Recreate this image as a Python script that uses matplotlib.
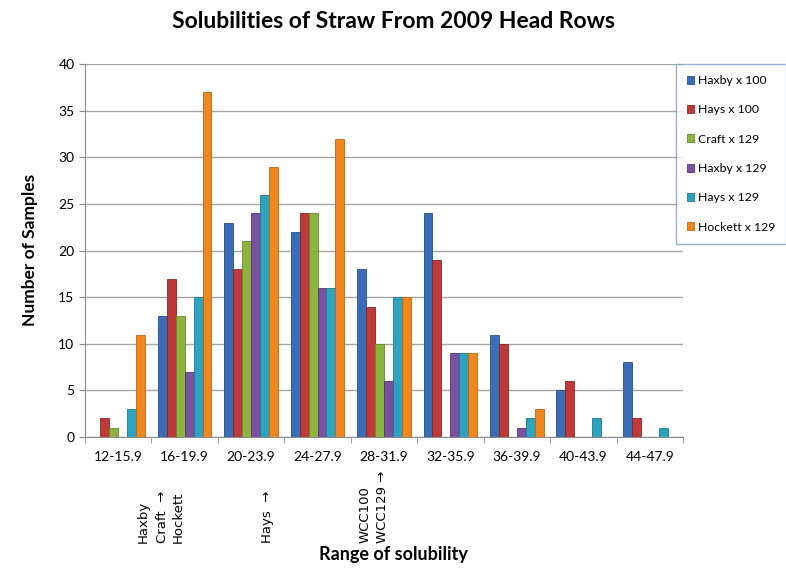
import numpy as np
import matplotlib
matplotlib.use("Agg")
import matplotlib.pyplot as plt

plt.rcParams['font.family'] = ['Lato', 'DejaVu Sans']

#data
ranges = ['12-15.9', '16-19.9', '20-23.9', '24-27.9', '28-31.9',
          '32-35.9', '36-39.9', '40-43.9', '44-47.9']
haxby_100 = [0, 13, 23, 22, 18, 24, 11, 5, 8]
hays_100 = [2, 17, 18, 24, 14, 19, 10, 6, 2]
craft_129 = [1, 13, 21, 24, 10, 0, 0, 0, 0]
haxby_129 = [0, 7, 24, 16, 6, 9, 1, 0, 0]
hays_129 = [3, 15, 26, 16, 15, 9, 2, 2, 1]
hockett_129 = [11, 37, 29, 32, 15, 9, 3, 0, 0]

series = [haxby_100, hays_100, craft_129, haxby_129, hays_129, hockett_129]
labels = ['Haxby x 100', 'Hays x 100', 'Craft x 129',
          'Haxby x 129', 'Hays x 129', 'Hockett x 129']
colors = ['#3A6DB5', '#BE3A38', '#8DB43F', '#7A519E', '#2EA3C0', '#F0861E']
edges = ['#24508F', '#8E2423', '#668A27', '#553573', '#1C7A90', '#C0650E']

fig = plt.figure(figsize=(7.86, 5.69), dpi=100)
ax = fig.add_axes([0.108, 0.232, 0.761, 0.655])

x = np.arange(len(ranges))
w = 0.135
for k, vals in enumerate(series):
    ax.bar(x + (k - 2.5)*w, vals, width=w, color=colors[k],
           edgecolor=edges[k], linewidth=0.6, label=labels[k], zorder=3)

ax.set_xlim(-0.5, len(ranges) - 0.5)
ax.set_ylim(0, 40)
ax.set_yticks(range(0, 41, 5))
ax.yaxis.grid(True, color='#A6A6A6', lw=1, zorder=0)

# category ticks sit between the groups
ax.set_xticks(x)
ax.set_xticklabels(ranges, fontsize=10)
ax.set_xticks(np.arange(-0.5, len(ranges)), minor=True)
ax.tick_params(axis='x', which='major', length=0, pad=10)
ax.tick_params(axis='x', which='minor', length=4, color='#8C8C8C')
ax.tick_params(axis='y', length=4, color='#8C8C8C', labelsize=10)

for s in ['top', 'right']:
    ax.spines[s].set_visible(False)
for s in ['left', 'bottom']:
    ax.spines[s].set_color('#8C8C8C')

fig.text(0.5, 0.962, 'Solubilities of Straw From 2009 Head Rows',
         ha='center', va='center', fontsize=16.5, fontweight='bold')
fig.text(0.038, 0.56, 'Number of Samples', rotation=90, ha='center',
         va='center', fontsize=12.5, fontweight='bold')
fig.text(0.5, 0.025, 'Range of solubility', ha='center', va='center',
         fontsize=13, fontweight='bold')

#vertical variety notes under the axis
notes = [('Haxby', 143), ('Craft  \u2192', 162), ('Hockett', 178),
         ('Hays  \u2192', 268), ('WCC100', 365), ('WCC129 \u2192', 382)]
for txt, px in notes:
    fig.text(px/786, 1 - 543/569, txt, rotation=90, ha='center', va='bottom',
             fontsize=9.5, family=['DejaVu Sans'])

leg = fig.legend(loc='upper left', bbox_to_anchor=(676/786, 1 - 64/569),
                 frameon=True, fancybox=False, fontsize=8.8,
                 handlelength=0.6, handleheight=0.6, handletextpad=0.3,
                 labelspacing=1.5, borderpad=0.9, borderaxespad=0)
leg.get_frame().set_edgecolor('#7F9DC9')
leg.get_frame().set_linewidth(1.0)

fig.savefig('out.png', dpi=100)
